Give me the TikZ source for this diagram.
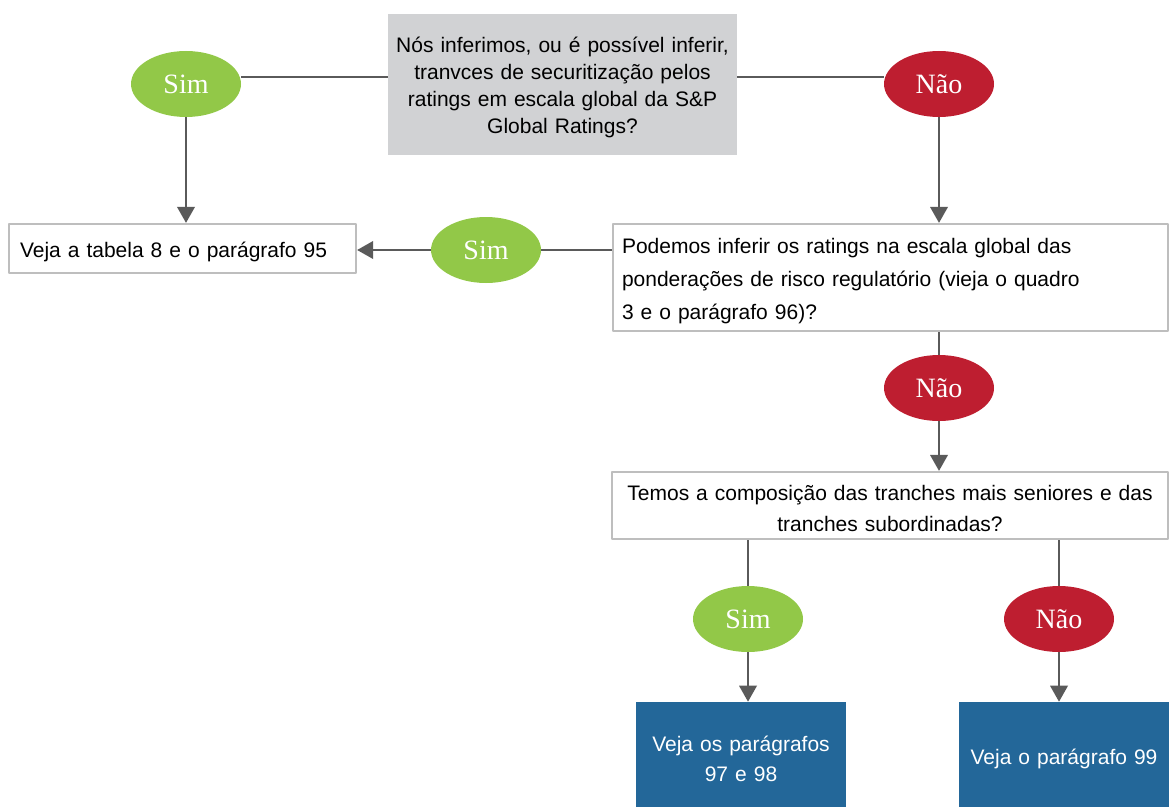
\documentclass[tikz,border=0pt]{standalone}
\usepackage{fontspec}
\setmainfont{Liberation Sans}
\newfontfamily\ovalfont{Liberation Serif}
\usetikzlibrary{arrows.meta,shapes.geometric}
\definecolor{simgreen}{RGB}{146,200,72}
\definecolor{naored}{RGB}{190,30,48}
\definecolor{paragblue}{RGB}{35,103,153}
\definecolor{askgray}{RGB}{209,210,212}
\definecolor{rimgray}{RGB}{190,190,190}
\definecolor{linkgray}{RGB}{90,90,90}
\begin{document}
\begin{tikzpicture}[x=0.75pt,y=-0.75pt,line join=round,
		>={Triangle[width=13pt,length=12pt]},
		link/.style={draw=linkgray,line width=1.9pt},
		toppad/.style={execute at begin node={\rule{0pt}{#1}}},
		sim/.style={ellipse,fill=simgreen,text=white,inner sep=0pt,minimum width=82.5pt,minimum height=49.5pt,font=\ovalfont\fontsize{21}{21}\selectfont},
		nao/.style={sim,fill=naored},
		askbox/.style={fill=askgray,minimum width=261.75pt,minimum height=105.75pt,text width=253.75pt,inner xsep=4pt,align=center,toppad=16.2pt,font=\fontsize{15.75}{20.25}\selectfont},
		wbox/.style={draw=rimgray,line width=1.6pt,fill=white,minimum height=#1,toppad=16.2pt,font=\fontsize{15.75}{24.75}\selectfont},
		parag/.style={fill=paragblue,text=white,minimum width=157.5pt,minimum height=82.5pt,text width=145pt,inner xsep=6.25pt,align=center,toppad=14.6pt,font=\fontsize{15.75}{22.5}\selectfont}]
	\useasboundingbox (0,0) rectangle (1169,806);
	\node[askbox] (ask) at (562.5,84.5) {Nós inferimos, ou é possível inferir,\\tranvces de securitização pelos\\ratings em escala global da S\&P\\Global Ratings?};
	\node[sim] (sim1) at (186,84) {Sim};
	\node[nao] (nao1) at (939,84) {Não};
	\node[wbox=36.75pt,text width=243.75pt,inner xsep=8.25pt,align=left] (tab8) at (182.5,248.5) {Veja a tabela 8 e o parágrafo 95};
	\node[wbox=80.25pt,text width=402.75pt,inner xsep=6.75pt,align=left] (reg) at (890.5,277.5) {Podemos inferir os ratings na escala global das\\ponderações de risco regulatório (vieja o quadro\\3 e o parágrafo 96)?};
	\node[sim] (sim2) at (486,250) {Sim};
	\node[nao] (nao2) at (939,388) {Não};
	\node[wbox=50.25pt,text width=405pt,inner xsep=6pt,align=center,font=\fontsize{15.75}{23.25}\selectfont] (tr) at (890,505.5) {Temos a composição das tranches mais seniores e das\\tranches subordinadas?};
	\node[sim] (sim3) at (748,619) {Sim};
	\node[nao] (nao3) at (1059,619) {Não};
	\node[parag] (p9798) at (741,757) {Veja os parágrafos\\97 e 98};
	\node[parag] (p99) at (1064,757) {Veja o parágrafo 99};
	\draw[link] ([yshift=5.25pt]sim1.east) -- ([yshift=5.25pt]sim1.east -| ask.west);
	\draw[link] ([yshift=5.25pt]nao1.west) -- ([yshift=5.25pt]nao1.west -| ask.east);
	\draw[link,->] (sim1.south) -- (sim1.south |- tab8.north);
	\draw[link,->] (nao1.south) -- (nao1.south |- reg.north);
	\draw[link] (sim2.east -| reg.west) -- (sim2.east);
	\draw[link,->] (sim2.west) -- (sim2.west -| tab8.east);
	\draw[link] (reg.south -| nao2) -- (nao2.north);
	\draw[link,->] (nao2.south) -- (nao2.south |- tr.north);
	\draw[link] (tr.south -| sim3) -- (sim3.north);
	\draw[link] (tr.south -| nao3) -- (nao3.north);
	\draw[link,->] (sim3.south) -- (sim3.south |- p9798.north);
	\draw[link,->] (nao3.south) -- (nao3.south |- p99.north);
\end{tikzpicture}
\end{document}
